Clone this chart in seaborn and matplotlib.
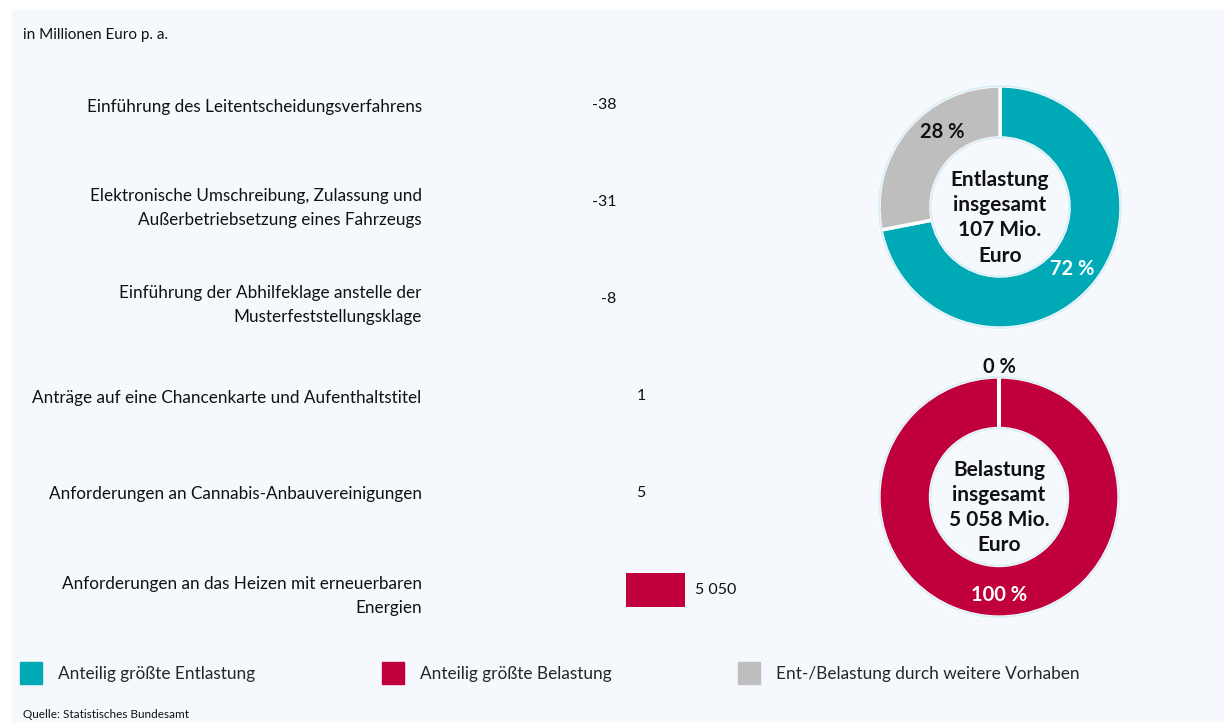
import matplotlib
matplotlib.use("Agg")
import matplotlib.pyplot as plt
import matplotlib.patches as mpatches
import seaborn as sns
import numpy as np
import pandas as pd

# Daten
vorhaben = [
    "Einführung des Leitentscheidungsverfahrens",
    "Elektronische Umschreibung, Zulassung und\nAußerbetriebsetzung eines Fahrzeugs",
    "Einführung der Abhilfeklage anstelle der\nMusterfeststellungsklage",
    "Anträge auf eine Chancenkarte und Aufenthaltstitel",
    "Anforderungen an Cannabis-Anbauvereinigungen",
    "Anforderungen an das Heizen mit erneuerbaren\nEnergien",
]
werte = [-38, -31, -8, 1, 5, 5050]
wert_labels = ["-38", "-31", "-8", "1", "5", "5 050"]

entlastung_teile = [77, 30]      # größte Vorhaben / weitere
belastung_teile = [5056, 2]
entlastung_pct = ["72 %", "28 %"]
belastung_pct = ["100 %", "0 %"]
entlastung_text = "Entlastung\ninsgesamt\n107 Mio.\nEuro"
belastung_text = "Belastung\ninsgesamt\n5 058 Mio.\nEuro"

legend_labels = ["Anteilig größte Entlastung", "Anteilig größte Belastung",
                 "Ent-/Belastung durch weitere Vorhaben"]

TEAL = "#00A9B6"
RED = "#C0003C"
GREY = "#BEBEBE"
BG = "#F5F9FD"
INK = "#111111"

sns.set_theme(style="white")
plt.rcParams["font.family"] = ["Lato", "DejaVu Sans"]

W, H = 1224, 722
fig = plt.figure(figsize=(W / 100, H / 100), dpi=100, facecolor="white")
fig.patches.append(mpatches.Rectangle((12 / W, 0), 1 - 12 / W, 1 - 10 / H,
                                      transform=fig.transFigure, color=BG, zorder=-5))


def fx(px):
    return px / W


def fy(py):
    return 1 - py / H


# ---------- Balken ----------
ax_left, ax_right = 430, 760
top_px, bot_px = 56.5, 638.5
ax = fig.add_axes([fx(ax_left), fy(bot_px), fx(ax_right - ax_left), (bot_px - top_px) / H])
ax.set_facecolor("none")

df = pd.DataFrame({"vorhaben": vorhaben, "wert": werte})
farben = [TEAL if v < 0 else RED for v in werte]
sns.barplot(data=df, x="wert", y="vorhaben", hue="vorhaben", palette=farben,
            orient="h", width=0.36, legend=False, saturation=1, linewidth=0, ax=ax)

px_per_unit = 59 / 5050
ax.set_xlim(-(626 - ax_left) / px_per_unit, (ax_right - 626) / px_per_unit)
ax.set_ylim(len(werte) - 0.5, -0.5)
for s in ax.spines.values():
    s.set_visible(False)
ax.set_xticks([])
ax.set_xlabel("")
ax.set_ylabel("")
ax.tick_params(axis="y", length=0, pad=6)
ax.set_yticks(range(len(vorhaben)))
ax.set_yticklabels(vorhaben, fontsize=12.35, color=INK, linespacing=1.65)

for i, (v, lab) in enumerate(zip(werte, wert_labels)):
    if v < 0:
        ax.annotate(lab, xy=(0, i), xytext=(-7, 0), textcoords="offset points",
                    ha="right", va="center", fontsize=11.5, color=INK)
    else:
        ax.annotate(lab, xy=(v, i), xytext=(7.5, 0), textcoords="offset points",
                    ha="left", va="center", fontsize=11.5, color=INK)


# ---------- Donuts ----------
def donut(cx, cy, r, teile, farben, center_text, pct, pct_pos, pct_col):
    a = fig.add_axes([fx(cx - r), fy(cy + r), fx(2 * r), 2 * r / H])
    a.pie(teile, colors=farben, startangle=90, counterclock=False, radius=1,
          wedgeprops=dict(width=0.43, edgecolor="white", linewidth=2.5))
    a.add_patch(mpatches.Circle((0, 0), 1.0, fill=False, ec="#DCEEF6", lw=1.5))
    a.add_patch(mpatches.Circle((0, 0), 0.57, fill=False, ec="#DCEEF6", lw=1.5))
    a.set_xlim(-1.02, 1.02)
    a.set_ylim(-1.02, 1.02)
    a.set_aspect("equal")
    a.axis("off")
    a.text(0, -0.09, center_text, ha="center", va="center", fontsize=15,
           fontweight="bold", linespacing=1.32, color=INK)
    for t, (x, y), c in zip(pct, pct_pos, pct_col):
        a.text(x, y, t, ha="center", va="center", fontsize=14.5,
               fontweight="bold", color=c, clip_on=False)


donut(1000, 207, 123.5, entlastung_teile, [TEAL, GREY], entlastung_text,
      entlastung_pct, [(0.6, -0.51), (-0.48, 0.62)], ["white", INK])
donut(999, 497, 122.5, belastung_teile, [RED, GREY], belastung_text,
      belastung_pct, [(0.0, -0.82), (0.0, 1.08)], ["white", INK])

# ---------- Texte & Legende ----------
fig.text(fx(23), fy(35), "in Millionen Euro p. a.", fontsize=11, va="center",
         ha="left", color=INK)
fig.text(fx(23), fy(714), "Quelle: Statistisches Bundesamt", fontsize=8.5,
         va="center", ha="left", color=INK)

handles = [mpatches.Patch(color=c) for c in [TEAL, RED, GREY]]
fig.legend(handles, legend_labels, loc="center left",
           bbox_to_anchor=(fx(13), fy(673)), ncol=3, frameon=False,
           fontsize=12.4, handlelength=1.28, handleheight=1.5,
           handletextpad=0.93, columnspacing=7.35, borderaxespad=0)

fig.savefig("out.png", dpi=100, facecolor="white")
